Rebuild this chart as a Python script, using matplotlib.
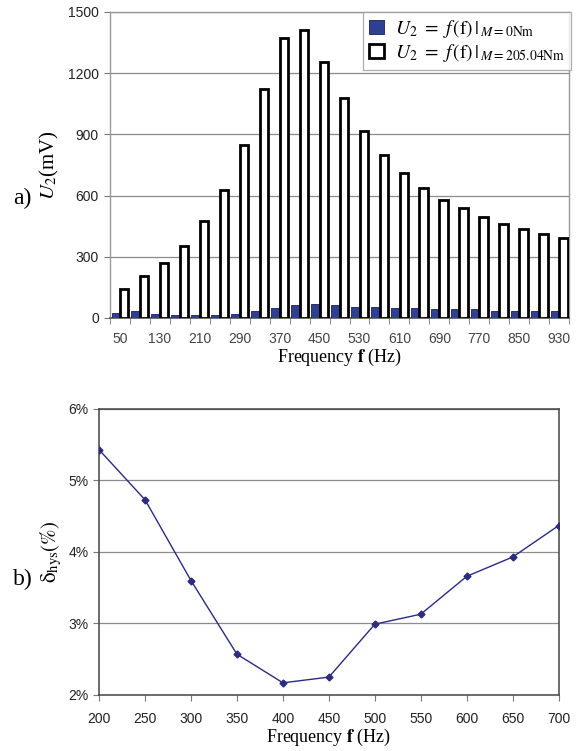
import matplotlib
matplotlib.use("Agg")
import matplotlib.pyplot as plt
import numpy as np
from matplotlib.ticker import FuncFormatter

# ---- data (a) ----
freq_a = [50, 90, 130, 170, 210, 250, 290, 330, 370, 410, 450, 490, 530, 570,
          610, 650, 690, 730, 770, 810, 850, 890, 930]
u2_m0 = [26, 33, 21, 15, 15, 15, 21, 33, 49, 62, 69, 62, 56, 56,
         49, 49, 43, 43, 43, 36, 36, 36, 36]
u2_m205 = [144, 205, 267, 355, 473, 626, 850, 1120, 1372, 1413, 1254, 1078, 914, 797,
           709, 637, 578, 537, 496, 460, 437, 414, 390]
yticks_a = [0, 300, 600, 900, 1200, 1500]

# ---- data (b) ----
freq_b = [200, 250, 300, 350, 400, 450, 500, 550, 600, 650, 700]
delta_hys = [5.43, 4.73, 3.60, 2.57, 2.17, 2.25, 2.99, 3.13, 3.66, 3.93, 4.37]
yticks_b = [2, 3, 4, 5, 6]

plt.rcParams['mathtext.fontset'] = 'stix'
serif = ['Liberation Serif', 'DejaVu Serif']
sans = ['Liberation Sans', 'DejaVu Sans']

fig = plt.figure(figsize=(5.76, 7.51), dpi=100)

# ================= (a) =================
ax1 = fig.add_axes([0.191, 0.5766, 0.797, 0.4075])
x = np.arange(len(freq_a))
w = 0.42
ax1.bar(x - 0.215, u2_m0, width=w, color='#2f3f92', edgecolor='#1a1f50', linewidth=0.6,
        label=r'$U_2\ =\ f\,(\mathrm{f})\,|_{\,M=0\mathrm{Nm}}$', zorder=3)
ax1.bar(x + 0.215, u2_m205, width=w, color='white', edgecolor='black', linewidth=2.0,
        label=r'$U_2\ =\ f\,(\mathrm{f})\,|_{\,M=205.04\mathrm{Nm}}$', zorder=3)
ax1.set_xlim(-0.5, len(freq_a) - 0.5)
ax1.set_ylim(0, 1500)
ax1.set_yticks(yticks_a)
ax1.yaxis.grid(True, color='#8c8c8c', linewidth=0.9, zorder=0)
ax1.set_axisbelow(True)
ax1.set_xticks(x[::2])
ax1.set_xticklabels([str(f) for f in freq_a[::2]], fontfamily=sans, fontsize=10, color='#444444')
ax1.set_xticks(np.arange(-0.5, len(freq_a), 1), minor=True)
ax1.tick_params(axis='x', which='major', length=0, pad=10)
ax1.tick_params(axis='x', which='minor', length=4, direction='out', color='#777777')
ax1.tick_params(axis='y', length=4, direction='out', color='#777777', pad=4)
for lab in ax1.get_yticklabels():
    lab.set_fontfamily(sans)
    lab.set_fontsize(10)
    lab.set_color('#222222')
for s in ['top', 'right', 'left']:
    ax1.spines[s].set_color('#999999')
    ax1.spines[s].set_linewidth(1.0)
ax1.spines['bottom'].set_color('#555555')
ax1.spines['bottom'].set_linewidth(1.2)
ax1.set_ylabel(r'$U_2$(mV)', fontfamily=serif, fontsize=15, labelpad=5)
ax1.set_xlabel(r'Frequency $\mathbf{f}$ (Hz)', fontfamily=serif, fontsize=13, labelpad=1)
leg = ax1.legend(loc='upper right', bbox_to_anchor=(1.005, 1.0), frameon=True, fancybox=False,
                 edgecolor='#999999', fontsize=14, handlelength=0.75, handleheight=0.75,
                 handletextpad=0.6, borderpad=0.3, labelspacing=0.1, borderaxespad=0.0)
leg.get_frame().set_linewidth(0.9)
fig.text(0.023, 0.736, 'a)', fontfamily=serif, fontsize=17, va='center', ha='left')

# ================= (b) =================
ax2 = fig.add_axes([0.172, 0.0746, 0.798, 0.3808])
ax2.plot(freq_b, delta_hys, color='#2b2b80', linewidth=1.0, marker='D', markersize=3.5,
         markerfacecolor='#2b2b80', markeredgecolor='#2b2b80', zorder=3)
ax2.set_xlim(200, 700)
ax2.set_ylim(2, 6)
ax2.set_xticks(freq_b)
ax2.set_yticks(yticks_b)
ax2.yaxis.set_major_formatter(FuncFormatter(lambda v, p: f'{int(round(v))}%'))
ax2.yaxis.grid(True, color='#8c8c8c', linewidth=0.9, zorder=0)
ax2.tick_params(axis='both', length=4, direction='out', color='#777777')
ax2.tick_params(axis='x', pad=8)
for lab in ax2.get_xticklabels() + ax2.get_yticklabels():
    lab.set_fontfamily(sans)
    lab.set_fontsize(10)
    lab.set_color('#222222')
for s in ax2.spines.values():
    s.set_color('#444444')
    s.set_linewidth(1.1)
ax2.set_ylabel(r'$\mathrm{\delta}_{\mathrm{hys}}(\%)$', fontfamily=serif, fontsize=15, labelpad=3)
ax2.set_xlabel(r'Frequency $\mathbf{f}$ (Hz)', fontfamily=serif, fontsize=13, labelpad=1)
fig.text(0.023, 0.228, 'b)', fontfamily=serif, fontsize=17, va='center', ha='left')

fig.savefig('out.png', dpi=100)
